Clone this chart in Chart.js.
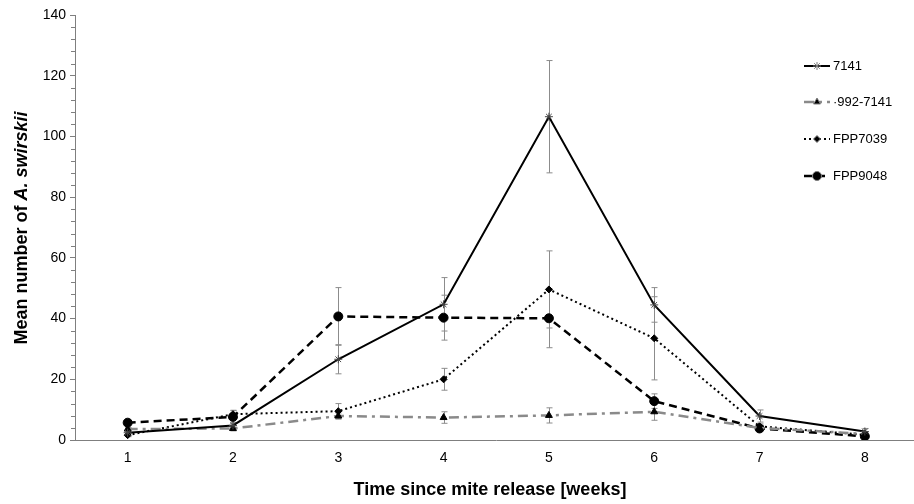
<!DOCTYPE html>
<html>
<head>
<meta charset="utf-8">
<script src="https://cdn.jsdelivr.net/npm/chart.js@4"></script>
<style>
  html, body { margin: 0; padding: 0; background: #fff; overflow: hidden; }
  #clip { width: 914px; height: 504px; overflow: hidden; }
  #wrap { width: 923px; height: 504px; position: relative; }
</style>
</head>
<body>
<div id="clip"><div id="wrap"><canvas id="miteChart"></canvas></div></div>
<script>
// Data
const weeks = ['1', '2', '3', '4', '5', '6', '7', '8'];
const yTicks = [0, 20, 40, 60, 80, 100, 120, 140];

const mean7141 = [2.4, 4.8, 26.6, 44.7, 106.5, 44.5, 7.9, 2.8];
const err7141 = [0.5, 1.0, 4.8, 8.8, 18.5, 5.7, 2.0, 1.0];

const mean992 = [3.6, 3.8, 7.9, 7.4, 8.1, 9.3, 4.0, 2.0];
const err992 = [0.5, 0.8, 1.0, 1.9, 2.5, 2.8, 0.8, 0.5];

const meanFPP7039 = [1.6, 8.5, 9.5, 20.0, 49.6, 33.5, 4.5, 1.7];
const errFPP7039 = [0.5, 1.2, 2.5, 3.6, 12.7, 13.7, 0.8, 0.5];

const meanFPP9048 = [5.7, 7.6, 40.7, 40.3, 40.1, 12.8, 3.8, 1.2];
const errFPP9048 = [0.6, 2.2, 9.5, 7.4, 9.7, 2.4, 0.8, 0.5];

const FONT = '"Liberation Sans", Arial, sans-serif';
const AXIS_GRAY = '#7f7f7f';

// error bars drawn behind the lines
const errorBars = {
  id: 'errorBars',
  beforeDatasetsDraw(chart) {
    const ctx = chart.ctx;
    const x = chart.scales.x, y = chart.scales.y;
    ctx.save();
    ctx.strokeStyle = '#8c8c8c';
    ctx.lineWidth = 1;
    chart.data.datasets.forEach(ds => {
      ds.data.forEach((v, i) => {
        const e = ds.errors[i];
        const px = Math.round(x.getPixelForValue(i)) + 0.5;
        const top = y.getPixelForValue(v + e);
        const bot = y.getPixelForValue(Math.max(v - e, 0));
        ctx.beginPath();
        ctx.moveTo(px, top); ctx.lineTo(px, bot);
        ctx.moveTo(px - 3, top); ctx.lineTo(px + 3, top);
        ctx.moveTo(px - 3, bot); ctx.lineTo(px + 3, bot);
        ctx.stroke();
      });
    });
    ctx.restore();
  }
};

// minor ticks, axis titles and the legend inside the plot
const decorations = {
  id: 'decorations',
  afterDraw(chart) {
    const ctx = chart.ctx;
    const y = chart.scales.y;
    const area = chart.chartArea;
    ctx.save();

    // minor ticks on the y axis
    ctx.strokeStyle = AXIS_GRAY;
    ctx.lineWidth = 1;
    for (let v = 4; v < 140; v += 4) {
      if (v % 20 === 0) continue;
      const py = Math.round(y.getPixelForValue(v)) + 0.5;
      ctx.beginPath();
      ctx.moveTo(area.left - 4, py);
      ctx.lineTo(area.left, py);
      ctx.stroke();
    }

    // y title with italic species name
    ctx.fillStyle = '#000';
    ctx.textBaseline = 'middle';
    ctx.translate(22, 228);
    ctx.rotate(-Math.PI / 2);
    const partA = 'Mean number of ';
    const partB = 'A. swirskii';
    ctx.font = 'bold 18px ' + FONT;
    const wA = ctx.measureText(partA).width;
    ctx.font = 'italic bold 18px ' + FONT;
    const wB = ctx.measureText(partB).width;
    let sx = -(wA + wB) / 2;
    ctx.textAlign = 'left';
    ctx.font = 'bold 18px ' + FONT;
    ctx.fillText(partA, sx, 0);
    ctx.font = 'italic bold 18px ' + FONT;
    ctx.fillText(partB, sx + wA, 0);
    ctx.setTransform(1, 0, 0, 1, 0, 0);

    // x title
    ctx.font = 'bold 18px ' + FONT;
    ctx.textAlign = 'center';
    ctx.fillText('Time since mite release [weeks]', 490, 490);

    // legend
    const rows = [66, 102, 139, 176];
    chart.data.datasets.forEach((ds, i) => {
      const ly = rows[i];
      ctx.save();
      ctx.strokeStyle = ds.borderColor;
      ctx.lineWidth = ds.borderWidth;
      ctx.setLineDash(ds.borderDash || []);
      ctx.beginPath();
      ctx.moveTo(804, ly);
      ctx.lineTo(830, ly);
      ctx.stroke();
      ctx.restore();
      Chart.helpers.drawPoint(ctx, {
        pointStyle: ds.pointStyle,
        radius: ds.pointRadius,
        borderWidth: 1,
        rotation: 0
      }, 817, ly);
      ctx.fillStyle = '#000';
      ctx.font = '13px ' + FONT;
      ctx.textAlign = 'left';
      ctx.fillText(ds.label, 833, ly);
    });
    ctx.restore();
  }
};

Chart.defaults.font.family = FONT;
Chart.defaults.color = '#000';

new Chart(document.getElementById('miteChart'), {
  type: 'line',
  data: {
    labels: weeks,
    datasets: [
      {
        label: '7141',
        data: mean7141,
        errors: err7141,
        borderColor: '#000',
        borderWidth: 2,
        pointStyle: 'star',
        pointRadius: 4,
        pointBorderColor: '#444',
        pointBackgroundColor: '#444',
        pointBorderWidth: 1
      },
      {
        label: '\u00b7992-7141',
        data: mean992,
        errors: err992,
        borderColor: '#8a8a8a',
        borderWidth: 2.5,
        borderDash: [10, 5, 3, 5],
        pointStyle: 'triangle',
        pointRadius: 4,
        pointBorderColor: '#000',
        pointBackgroundColor: '#000',
        pointBorderWidth: 1
      },
      {
        label: 'FPP7039',
        data: meanFPP7039,
        errors: errFPP7039,
        borderColor: '#000',
        borderWidth: 2,
        borderDash: [2, 3],
        pointStyle: 'rectRot',
        pointRadius: 3.5,
        pointBorderColor: '#000',
        pointBackgroundColor: '#000',
        pointBorderWidth: 1
      },
      {
        label: 'FPP9048',
        data: meanFPP9048,
        errors: errFPP9048,
        borderColor: '#000',
        borderWidth: 2.5,
        borderDash: [8, 5],
        pointStyle: 'circle',
        pointRadius: 4.5,
        pointBorderColor: '#000',
        pointBackgroundColor: '#000',
        pointBorderWidth: 1
      }
    ]
  },
  options: {
    responsive: true,
    maintainAspectRatio: false,
    animation: false,
    layout: { padding: { top: 15, right: 0, left: 0, bottom: 0 } },
    plugins: {
      legend: { display: false },
      tooltip: { enabled: false }
    },
    scales: {
      x: {
        offset: true,
        grid: { display: true, drawOnChartArea: false, drawTicks: false },
        border: { display: true, color: AXIS_GRAY, width: 1 },
        ticks: { font: { size: 14 }, padding: 10, color: '#000' },
        afterFit(scale) { scale.height = 64; }
      },
      y: {
        min: 0,
        max: 140,
        afterBuildTicks(scale) { scale.ticks = yTicks.map(v => ({ value: v })); },
        grid: { drawOnChartArea: false, drawTicks: true, tickLength: 5, color: AXIS_GRAY },
        border: { display: true, color: AXIS_GRAY, width: 1 },
        ticks: { font: { size: 14 }, padding: 4, color: '#000' },
        afterFit(scale) { scale.width = 75; }
      }
    }
  },
  plugins: [errorBars, decorations]
});
</script>
</body>
</html>
